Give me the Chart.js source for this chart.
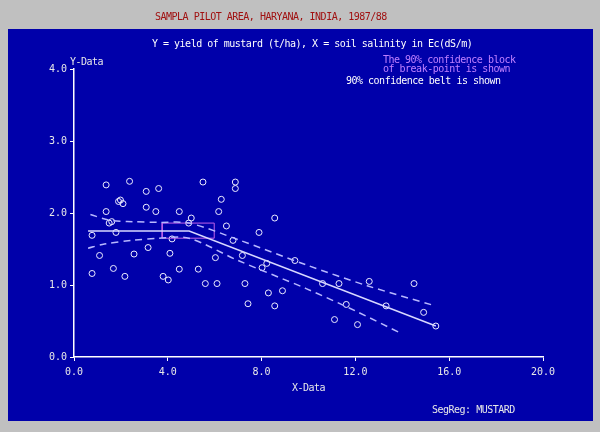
<!DOCTYPE html>
<html>
<head>
<meta charset="utf-8">
<script src="https://cdn.jsdelivr.net/npm/chart.js@4/dist/chart.umd.min.js"></script>
<style>
  body{margin:0;background:#c0c0c0;}
  #wrap{position:relative;width:600px;height:432px;overflow:hidden;background:#c0c0c0;}
  #panel{position:absolute;left:8px;top:29px;width:585px;height:392px;background:#0000aa;}
  #chart{position:absolute;left:0;top:0;}
  .txt{position:absolute;font-family:"DejaVu Sans Mono",monospace;font-size:10px;letter-spacing:-0.5px;line-height:12px;white-space:pre;}
</style>
</head>
<body>
<div id="wrap">
  <div id="panel"></div>
  <canvas id="chart" width="600" height="432"></canvas>
  <div class="txt" style="left:155px;top:11px;color:#a01010">SAMPLA PILOT AREA, HARYANA, INDIA, 1987/88</div>
  <div class="txt" style="left:152px;top:38px;color:#ffffff">Y = yield of mustard (t/ha), X = soil salinity in Ec(dS/m)</div>
  <div class="txt" style="left:383px;top:54px;color:#c080ff">The 90% confidence block</div>
  <div class="txt" style="left:383px;top:63px;color:#c080ff">of break-point is shown</div>
  <div class="txt" style="left:346px;top:75px;color:#ffffff">90% confidence belt is shown</div>
  <div class="txt" style="left:70px;top:56px;color:#e8e8e8">Y-Data</div>
  <div class="txt" style="left:292px;top:382px;color:#e8e8e8">X-Data</div>
  <div class="txt" style="left:432px;top:404px;color:#e8e8e8">SegReg: MUSTARD</div>
</div>
<script>
// --------- DATA ----------
const obsX = [1.37,2.37,3.08,3.61,1.90,1.98,2.09,1.37,3.08,3.49,4.49,5.00,1.50,1.61,4.89,0.77,1.79,4.18,3.16,1.09,2.56,4.09,1.68,4.49,0.77,2.17,3.80,4.02,
  5.50,6.88,6.88,6.28,6.17,8.56,6.50,7.89,6.78,7.18,6.03,8.22,8.02,5.30,9.42,5.60,6.10,7.29,8.29,8.89,7.42,8.56,
  10.60,11.30,12.59,14.50,11.61,13.31,14.91,11.11,12.09,15.43];
const obsY = [2.39,2.44,2.30,2.34,2.16,2.18,2.13,2.02,2.08,2.02,2.02,1.93,1.86,1.88,1.86,1.69,1.73,1.64,1.52,1.41,1.43,1.44,1.23,1.22,1.16,1.12,1.12,1.07,
  2.43,2.43,2.34,2.19,2.02,1.93,1.82,1.73,1.62,1.41,1.38,1.30,1.24,1.22,1.34,1.02,1.02,1.02,0.89,0.92,0.74,0.71,
  1.02,1.02,1.05,1.02,0.73,0.71,0.62,0.52,0.45,0.43];

const regX = [0.6, 4.91, 15.43];
const regY = [1.75, 1.75, 0.43];

const upperX = [0.7, 1.5, 2.5, 3.6, 4.9, 7.0, 9.9, 12.5, 15.3];
const upperY = [1.98, 1.90, 1.88, 1.87, 1.86, 1.63, 1.28, 0.99, 0.72];
const lowerX = [0.6, 1.3, 2.5, 3.6, 4.9, 7.0, 9.9, 12.0, 14.0];
const lowerY = [1.51, 1.57, 1.62, 1.65, 1.65, 1.34, 0.95, 0.64, 0.32];

// confidence block of the break-point
const blockX = [3.76, 5.98];
const blockY = [1.65, 1.86];

const xTickLabels = ['0.0','4.0','8.0','12.0','16.0','20.0'];
const yTickLabels = ['0.0','1.0','2.0','3.0','4.0'];

// --------- HELPERS ----------
const pts = (xs, ys) => xs.map((x,i)=>({x:x, y:ys[i]}));
const blockPts = [
  {x:blockX[0], y:blockY[0]}, {x:blockX[1], y:blockY[0]},
  {x:blockX[1], y:blockY[1]}, {x:blockX[0], y:blockY[1]},
  {x:blockX[0], y:blockY[0]}
];
const tickFont = {family:'DejaVu Sans Mono', size:10};

new Chart(document.getElementById('chart'), {
  type:'scatter',
  data:{
    datasets:[
      {data:pts(upperX,upperY), showLine:true, borderColor:'#b8b8ff', borderWidth:1.5, borderDash:[7,5], pointRadius:0, tension:0.3},
      {data:pts(lowerX,lowerY), showLine:true, borderColor:'#b8b8ff', borderWidth:1.5, borderDash:[7,5], pointRadius:0, tension:0.3},
      {data:pts(regX,regY), showLine:true, borderColor:'#d8d8ff', borderWidth:1.5, pointRadius:0},
      {data:blockPts, showLine:true, borderColor:'#c060e8', borderWidth:1, pointRadius:0},
      {data:pts(obsX,obsY), pointRadius:3, pointBorderWidth:1, pointBorderColor:'#ececff', pointBackgroundColor:'rgba(0,0,0,0)'}
    ]
  },
  options:{
    responsive:false,
    animation:false,
    layout:{padding:{left:0, top:69, right:57, bottom:0}},
    plugins:{legend:{display:false}, tooltip:{enabled:false}},
    scales:{
      x:{
        type:'linear', min:0, max:20,
        ticks:{stepSize:4, color:'#e8e8e8', font:tickFont, padding:5, maxRotation:0,
               callback:(v,i)=>xTickLabels[i]},
        grid:{drawOnChartArea:false, color:'#ffffff', tickLength:4},
        border:{color:'#ffffff', width:1.5},
        afterFit:s=>{s.height = 75;}
      },
      y:{
        type:'linear', min:0, max:4,
        ticks:{stepSize:1, color:'#e8e8e8', font:tickFont, padding:3,
               callback:(v,i)=>yTickLabels[i]},
        grid:{drawOnChartArea:false, color:'#ffffff', tickLength:4},
        border:{color:'#ffffff', width:1.5},
        afterFit:s=>{s.width = 74;}
      }
    }
  }
});
</script>
</body>
</html>
